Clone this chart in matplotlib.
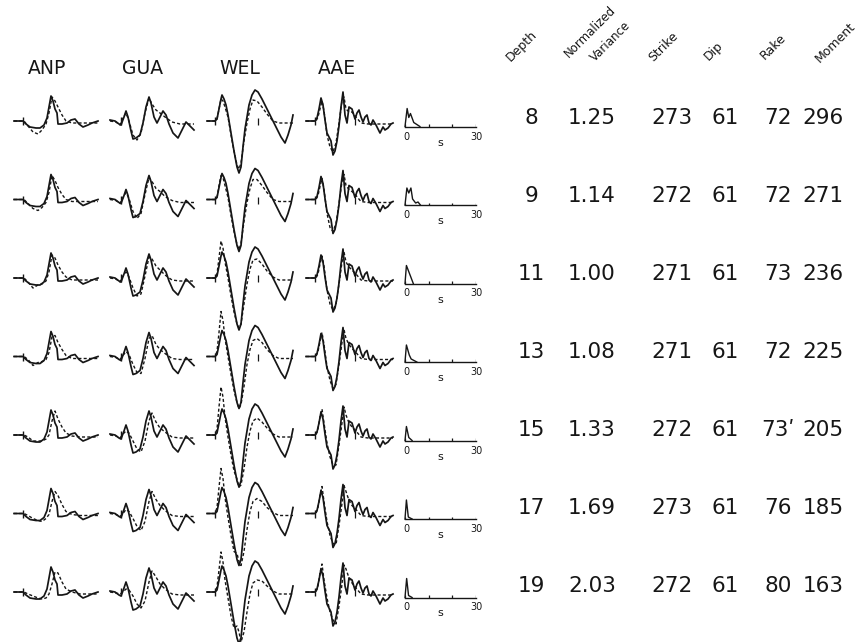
import matplotlib
matplotlib.use("Agg")
import matplotlib.pyplot as plt

# ---------------- data ----------------
stations = ["ANP", "GUA", "WEL", "AAE"]
depths = [8, 9, 11, 13, 15, 17, 19]
norm_variance = ["1.25", "1.14", "1.00", "1.08", "1.33", "1.69", "2.03"]
strike = [273, 272, 271, 271, 272, 273, 272]
dip = [61, 61, 61, 61, 61, 61, 61]
rake = ["72", "72", "73", "72", "73ʹ", "76", "80"]
moment = [296, 271, 236, 225, 205, 185, 163]
table_headers = ["Depth", "Normalized", "Variance", "Strike", "Dip", "Rake", "Moment"]

# observed seismograms (time samples, amplitude)
ANP_T = [0, 9, 12, 16, 22, 26, 30, 33, 35, 37, 39, 41, 43, 44, 48, 53, 57, 61, 65, 69, 74, 78, 84]
ANP_OBS = [0, 0, -3, -6, -7, -7, -4, 3, 14, 25, 20, 12, 8, -3, -3, -2, 1, 2, -3, -6, -4, -2, 0]
GUA_T = [0, 5, 9, 11, 14, 16, 18, 21, 23, 26, 30, 33, 36, 39, 41, 44, 47, 50, 53, 56, 59, 63, 68, 72, 76, 80, 84]
GUA_OBS = [1, 0, -3, -4, 4, 10, 4, -10, -18, -17, -14, -2, 14, 24, 18, 4, -2, 4, 10, 6, -3, -12, -17, -9, -1, -5, -9]
WEL_T = [0, 8, 10, 12, 14, 15, 17, 19, 21, 24, 27, 30, 32, 34, 36, 38, 40, 42, 45, 48, 51, 55, 60, 65, 70, 74, 78, 81, 84, 86]
WEL_OBS = [0, 0, 2, 12, 22, 26, 22, 16, 6, -12, -30, -46, -52, -46, -26, -8, 4, 16, 26, 31, 29, 22, 12, 2, -8, -16, -22, -14, -4, 6]
AAE_T = [0, 9, 11, 13, 15, 17, 19, 21, 23, 25, 27, 29, 31, 33, 35, 37, 39, 41, 43, 46, 49, 51, 53, 55, 57, 59, 61, 63, 65, 67, 70, 74, 77, 79, 82, 85, 87]
AAE_OBS = [0, 0, 3, 12, 23, 16, 1, -12, -16, -20, -34, -30, -20, -5, 14, 29, 6, -2, 14, 12, 2, 8, 11, 4, -1, 4, 6, -2, -4, 1, -4, -12, -6, -9, -7, -3, -2]

# synthetic seismograms for each depth
ANP_ST = [0, 10, 14, 19, 24, 28, 32, 35, 38, 41, 44, 48, 52, 58, 66, 76, 84]
ANP_SYN = [
    [0, 0, -5, -11, -13, -9, -3, 8, 24, 20, 14, 6, 0, -2, -2, -2, -2],
    [0, 0, -4, -9, -11, -8, -3, 7, 24, 19, 12, 5, 0, -2, -2, -2, -2],
    [0, 0, -4, -10, -7, -6, -3, 6, 23, 20, 13, 6, 1, -2, -2, -2, -2],
    [0, 0, -3, -9, -6, -5, -3, 4, 20, 21, 14, 7, 1, -2, -2, -2, -2],
    [0, 0, -2, -6, -6, -6, -4, 0, 14, 24, 16, 8, 2, -1, -2, -2, -2],
    [0, 0, -2, -5, -7, -8, -5, -1, 12, 22, 18, 9, 2, -1, -2, -2, -2],
    [0, 0, -2, -4, -6, -7, -6, -2, 8, 20, 19, 10, 3, 0, -2, -2, -2],
]
GUA_ST = [0, 6, 10, 13, 16, 19, 23, 27, 31, 35, 39, 42, 46, 50, 55, 62, 70, 78, 84]
GUA_SYN = [
    [0, -1, -4, 3, 8, 0, -14, -19, -12, 8, 23, 17, 11, 8, 4, -1, -3, -3, -3],
    [0, -1, -4, 2, 7, 1, -12, -19, -14, 5, 22, 18, 11, 8, 3, -1, -3, -3, -3],
    [0, -1, -4, 2, 6, 1, -10, -18, -16, 2, 21, 19, 12, 8, 3, -2, -3, -3, -3],
    [0, -1, -3, 1, 5, 2, -8, -16, -17, -2, 18, 21, 12, 7, 3, -2, -3, -3, -3],
    [0, -1, -3, 1, 4, 2, -6, -14, -17, -6, 14, 22, 13, 7, 3, -2, -3, -3, -3],
    [0, -1, -3, 0, 4, 2, -5, -13, -17, -8, 12, 22, 14, 8, 3, -2, -3, -3, -3],
    [0, -1, -2, 0, 3, 2, -4, -12, -16, -9, 10, 21, 15, 8, 3, -2, -3, -3, -3],
]
WEL_ST = [0, 8, 10, 12, 14, 16, 18, 21, 24, 27, 30, 32, 34, 37, 40, 43, 46, 50, 55, 60, 66, 72, 80, 86]
WEL_SYN = [
    [0, 0, 2, 12, 22, 20, 14, 4, -14, -30, -44, -48, -42, -20, -2, 12, 21, 20, 14, 7, 0, -2, -2, -2],
    [0, 0, 2, 14, 24, 22, 14, 2, -16, -32, -45, -50, -44, -22, -3, 11, 20, 20, 14, 7, 0, -2, -2, -2],
    [0, 0, 4, 20, 37, 30, 16, 0, -18, -34, -46, -50, -46, -26, -6, 9, 18, 19, 14, 7, 1, -2, -2, -2],
    [0, 0, 5, 24, 45, 36, 18, 0, -18, -34, -46, -52, -48, -30, -8, 7, 16, 18, 14, 7, 1, -2, -2, -2],
    [0, 0, 6, 28, 48, 38, 18, -2, -20, -36, -44, -52, -50, -34, -12, 4, 14, 17, 13, 7, 1, -2, -2, -2],
    [0, 0, 6, 26, 45, 35, 16, -4, -22, -38, -40, -48, -52, -38, -16, 2, 12, 15, 12, 6, 1, -2, -2, -2],
    [0, 0, 5, 22, 40, 30, 12, -6, -24, -36, -34, -40, -50, -40, -20, -2, 9, 12, 11, 6, 1, -2, -2, -2],
]
AAE_ST = [0, 10, 12, 14, 16, 18, 21, 24, 27, 30, 33, 36, 38, 40, 43, 46, 50, 55, 62, 70, 87]
AAE_SYN = [
    [0, 0, 4, 12, 20, 10, -14, -26, -31, -22, -2, 20, 24, 12, 9, 9, 4, -2, -3, -3, -3],
    [0, 0, 4, 13, 21, 10, -14, -28, -32, -24, -4, 18, 25, 14, 10, 8, 4, -2, -3, -3, -3],
    [0, 0, 4, 14, 22, 12, -12, -26, -32, -26, -6, 16, 26, 16, 11, 8, 4, -2, -3, -3, -3],
    [0, 0, 5, 15, 24, 12, -10, -24, -32, -28, -8, 14, 27, 18, 12, 8, 4, -2, -3, -3, -3],
    [0, 0, 6, 18, 26, 12, -8, -22, -30, -30, -10, 12, 28, 20, 12, 8, 4, -2, -3, -3, -3],
    [0, 0, 6, 18, 27, 12, -8, -22, -30, -31, -12, 10, 28, 22, 13, 8, 4, -2, -3, -3, -3],
    [0, 0, 6, 19, 28, 12, -6, -20, -28, -32, -14, 8, 27, 23, 14, 9, 4, -2, -3, -3, -3],
]
onset_time = [9, 11, 8, 9]
window_mark = [None, None, 51, 49]

# source time functions (s, amplitude)
STF_T = [
    [0, 0.9, 1.6, 2.3, 3.7, 6.3],
    [0, 0.8, 1.6, 2.5, 3.2, 4.5, 5.5, 6.5],
    [0, 0.6, 3.5],
    [0, 0.6, 1.8, 2.6, 5.0],
    [0, 0.6, 1.6, 3.0],
    [0, 0.6, 1.4, 3.0],
    [0, 0.7, 1.5, 3.0],
]
STF_A = [
    [0, 18, 9, 13, 4, 0],
    [0, 17, 12, 17, 6, 2, 3, 0],
    [0, 18, 0],
    [0, 17, 7, 3, 0],
    [0, 14, 3, 0],
    [0, 19, 2, 0],
    [0, 19, 2, 0],
]
stf_ticks = [0, 10, 20, 30]

obs_t = [ANP_T, GUA_T, WEL_T, AAE_T]
obs_a = [ANP_OBS, GUA_OBS, WEL_OBS, AAE_OBS]
syn_t = [ANP_ST, GUA_ST, WEL_ST, AAE_ST]
syn_a = [ANP_SYN, GUA_SYN, WEL_SYN, AAE_SYN]

# ---------------- layout ----------------
W, H = 865, 642
fig = plt.figure(figsize=(W / 100, H / 100), dpi=100)
fig.patch.set_facecolor("white")
INK = "#161616"
FONT = ["DejaVu Sans"]


def px_axes(x, y_top, w, h):
    return fig.add_axes([x / W, 1 - (y_top + h) / H, w / W, h / H])


def px_text(x, y, s, **kw):
    fig.text(x / W, 1 - y / H, s, **kw)


col_x = [14, 110, 207, 306]
col_w = 92
half_h = 60
base0, row_step = 121, 78.5
text0, text_step = 118, 78.0

# station headers
head_x = [47, 143, 240, 337]
for name, hx in zip(stations, head_x):
    px_text(hx, 68, name, ha="center", va="center", fontsize=13.5,
            family=FONT, color=INK)

for r in range(len(depths)):
    base = base0 + r * row_step
    for c in range(4):
        ax = px_axes(col_x[c], base - half_h, col_w, 2 * half_h)
        ax.set_xlim(0, col_w)
        ax.set_ylim(-half_h, half_h)
        ax.axis("off")
        ax.plot(obs_t[c], obs_a[c], color=INK, lw=1.25, clip_on=False,
                solid_joinstyle="round")
        ax.plot(syn_t[c], syn_a[c][r], color=INK, lw=1.0, clip_on=False,
                linestyle=(0, (2.2, 1.6)))
        ax.vlines(onset_time[c], -4, 4, color=INK, lw=1.0)
        if window_mark[c] is not None:
            ax.vlines(window_mark[c], -4, 3, color=INK, lw=0.9)

    # source time function
    sb = base + 5.5
    ax = px_axes(405, sb - 40, 71, 40)
    ax.set_xlim(0, 30)
    ax.set_ylim(0, 40)
    ax.axis("off")
    ax.plot(STF_T[r], STF_A[r], color=INK, lw=1.0, clip_on=False)
    ax.plot([0, 30], [0, 0], color=INK, lw=1.0, clip_on=False)
    ax.vlines(stf_ticks, 0, 2.5, color=INK, lw=0.9)
    px_text(406, sb + 10, "0", ha="center", va="center", fontsize=7,
            family=FONT, color=INK)
    px_text(476, sb + 10, "30", ha="center", va="center", fontsize=7,
            family=FONT, color=INK)
    px_text(440, sb + 16, "s", ha="center", va="center", fontsize=8,
            family=FONT, color=INK)

    # table values
    ty = text0 + r * text_step
    vals = [str(depths[r]), norm_variance[r], str(strike[r]), str(dip[r]),
            rake[r], str(moment[r])]
    xs = [531, 592, 672, 725, 778, 823]
    for v, x in zip(vals, xs):
        px_text(x, ty, v, ha="center", va="center", fontsize=15.5,
                family=FONT, color=INK)

# rotated table headers
hdr_pos = [(513, 64), (571, 60), (597, 64), (655, 64), (711, 63), (767, 62), (822, 65)]
hdr_size = [9, 8.5, 8.5, 9, 9, 9, 9]
for h, (x, y), fs in zip(table_headers, hdr_pos, hdr_size):
    px_text(x, y, h, ha="left", va="bottom", rotation=45,
            rotation_mode="anchor", fontsize=fs, family=FONT, color=INK)

fig.savefig("out.png", dpi=100, facecolor="white")
